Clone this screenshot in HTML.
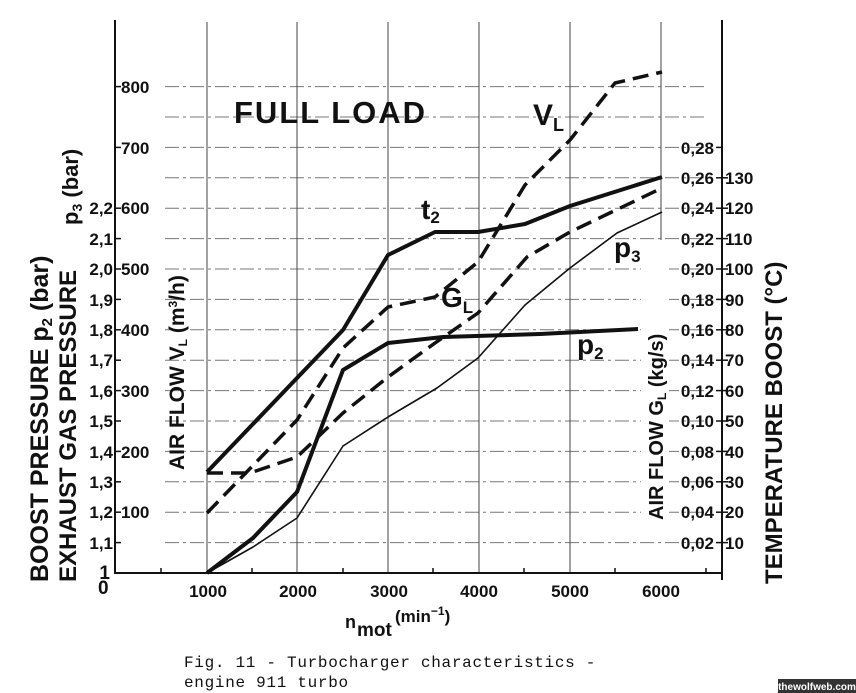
<!DOCTYPE html>
<html><head><meta charset="utf-8"><style>
html,body{margin:0;padding:0;background:#fff;}
svg{display:block;}
text{font-family:"Liberation Sans",sans-serif;font-weight:bold;fill:#111;}
.mono{font-family:"Liberation Mono",monospace;font-weight:normal;}
</style></head><body>
<svg width="856" height="693" viewBox="0 0 856 693" xmlns="http://www.w3.org/2000/svg">
<rect width="856" height="693" fill="#fff"/>
<!-- horizontal grid -->
<g stroke="#777" stroke-width="1" stroke-dasharray="14 4 3 4">
<line x1="165" y1="542.6" x2="705" y2="542.6"/><line x1="165" y1="512.2" x2="705" y2="512.2"/>
<line x1="165" y1="481.8" x2="705" y2="481.8"/><line x1="165" y1="451.4" x2="705" y2="451.4"/>
<line x1="165" y1="421" x2="705" y2="421"/><line x1="165" y1="390.6" x2="705" y2="390.6"/>
<line x1="165" y1="360.2" x2="705" y2="360.2"/><line x1="165" y1="329.8" x2="705" y2="329.8"/>
<line x1="165" y1="299.4" x2="705" y2="299.4"/><line x1="165" y1="269" x2="705" y2="269"/>
<line x1="165" y1="238.6" x2="705" y2="238.6"/><line x1="165" y1="208.2" x2="705" y2="208.2"/>
<line x1="165" y1="177.8" x2="705" y2="177.8"/><line x1="165" y1="147.4" x2="705" y2="147.4"/>
<line x1="165" y1="117" x2="705" y2="117"/><line x1="165" y1="86.6" x2="705" y2="86.6"/>
</g>
<!-- vertical grid -->
<g stroke="#444" stroke-width="1">
<line x1="207" y1="22" x2="207" y2="573"/><line x1="297" y1="22" x2="297" y2="573"/>
<line x1="388" y1="22" x2="388" y2="573"/><line x1="479" y1="22" x2="479" y2="573"/>
<line x1="570" y1="22" x2="570" y2="573"/><line x1="661" y1="22" x2="661" y2="240"/>
</g>
<rect x="641" y="245" width="28" height="278" fill="#fff"/>
<!-- axes -->
<g stroke="#111" stroke-width="2">
<line x1="115" y1="20" x2="115" y2="574"/>
<line x1="114" y1="573" x2="723" y2="573"/>
<line x1="722" y1="20" x2="722" y2="580"/>
</g>
<g stroke="#111" stroke-width="1.5">
<line x1="115" y1="542.6" x2="121" y2="542.6"/><line x1="115" y1="512.2" x2="121" y2="512.2"/>
<line x1="115" y1="481.8" x2="121" y2="481.8"/><line x1="115" y1="451.4" x2="121" y2="451.4"/>
<line x1="115" y1="421" x2="121" y2="421"/><line x1="115" y1="390.6" x2="121" y2="390.6"/>
<line x1="115" y1="360.2" x2="121" y2="360.2"/><line x1="115" y1="329.8" x2="121" y2="329.8"/>
<line x1="115" y1="299.4" x2="121" y2="299.4"/><line x1="115" y1="269" x2="121" y2="269"/>
<line x1="115" y1="238.6" x2="121" y2="238.6"/><line x1="115" y1="208.2" x2="121" y2="208.2"/>
<line x1="115" y1="147.4" x2="121" y2="147.4"/><line x1="115" y1="86.6" x2="121" y2="86.6"/>
<line x1="161" y1="573" x2="161" y2="568"/><line x1="252" y1="573" x2="252" y2="568"/>
<line x1="343" y1="573" x2="343" y2="568"/><line x1="433" y1="573" x2="433" y2="568"/>
<line x1="524" y1="573" x2="524" y2="568"/><line x1="615" y1="573" x2="615" y2="568"/>
<line x1="706" y1="573" x2="706" y2="568"/>
<line x1="716" y1="542.6" x2="728" y2="542.6"/><line x1="716" y1="512.2" x2="728" y2="512.2"/>
<line x1="716" y1="481.8" x2="728" y2="481.8"/><line x1="716" y1="451.4" x2="728" y2="451.4"/>
<line x1="716" y1="421" x2="728" y2="421"/><line x1="716" y1="390.6" x2="728" y2="390.6"/>
<line x1="716" y1="360.2" x2="728" y2="360.2"/><line x1="716" y1="329.8" x2="728" y2="329.8"/>
<line x1="716" y1="299.4" x2="728" y2="299.4"/><line x1="716" y1="269" x2="728" y2="269"/>
<line x1="716" y1="238.6" x2="728" y2="238.6"/><line x1="716" y1="208.2" x2="728" y2="208.2"/>
<line x1="716" y1="177.8" x2="728" y2="177.8"/><line x1="716" y1="147.4" x2="722" y2="147.4"/>
</g>
<!-- curves -->
<g fill="none" stroke="#111" stroke-linejoin="round" stroke-linecap="butt">
<polyline stroke-width="4" points="207,472 343,330 388,255 435,232 478,232 525,224 570,206 662,177"/>
<polyline stroke-width="3.5" stroke-dasharray="16 8" points="207,513 297,420 343,348 388,307 435,297 478,262 525,185 570,140 615,83 662,72"/>
<polyline stroke-width="3.5" stroke-dasharray="16 8" points="207,473 250,473 297,457 343,413 388,377 435,343 478,313 527,257 570,232 662,188"/>
<polyline stroke-width="4" points="207,573 253,538 297,492 343,370 388,343 443,337 540,334 638,329"/>
<polyline stroke-width="1.6" points="207,573 253,547 297,518 343,446 388,417 437,388 478,358 525,305 570,268 617,233 662,212"/>
</g>
<!-- left tick labels -->
<g font-size="17" text-anchor="end">
<text x="110" y="579" font-size="19">1</text>
<text x="113" y="549">1,1</text><text x="113" y="518">1,2</text><text x="113" y="488">1,3</text>
<text x="113" y="458">1,4</text><text x="113" y="427">1,5</text><text x="113" y="397">1,6</text>
<text x="113" y="366">1,7</text><text x="113" y="336">1,8</text><text x="113" y="306">1,9</text>
<text x="113" y="275">2,0</text><text x="113" y="245">2,1</text><text x="113" y="214">2,2</text>
</g>
<text x="98" y="594" font-size="19">0</text>
<g font-size="17">
<text x="121" y="518">100</text><text x="121" y="458">200</text><text x="121" y="397">300</text>
<text x="121" y="336">400</text><text x="121" y="275">500</text><text x="121" y="214">600</text>
<text x="121" y="154">700</text><text x="121" y="93">800</text>
</g>
<!-- right tick labels -->
<g font-size="17" text-anchor="end">
<text x="714" y="549">0,02</text><text x="714" y="518">0,04</text><text x="714" y="488">0,06</text>
<text x="714" y="458">0,08</text><text x="714" y="427">0,10</text><text x="714" y="397">0,12</text>
<text x="714" y="366">0,14</text><text x="714" y="336">0,16</text><text x="714" y="306">0,18</text>
<text x="714" y="275">0,20</text><text x="714" y="245">0,22</text><text x="714" y="214">0,24</text>
<text x="714" y="184">0,26</text><text x="714" y="154">0,28</text>
</g>
<g font-size="17">
<text x="725" y="549">10</text><text x="725" y="518">20</text><text x="725" y="488">30</text>
<text x="725" y="458">40</text><text x="725" y="427">50</text><text x="725" y="397">60</text>
<text x="725" y="366">70</text><text x="725" y="336">80</text><text x="725" y="306">90</text>
<text x="725" y="275">100</text><text x="725" y="245">110</text><text x="725" y="214">120</text>
<text x="725" y="184">130</text>
</g>
<!-- x tick labels -->
<g font-size="17" text-anchor="middle">
<text x="208" y="597">1000</text><text x="298" y="597">2000</text><text x="389" y="597">3000</text>
<text x="479" y="597">4000</text><text x="570" y="597">5000</text><text x="661" y="597">6000</text>
</g>
<text x="345" y="628" font-size="18" font-weight="normal">n</text>
<text x="357" y="636" font-size="19">mot</text>
<text x="395" y="622" font-size="17">(min<tspan font-size="12" dy="-7">−1</tspan><tspan dy="7">)</tspan></text>
<!-- rotated titles -->
<text transform="translate(48,582) rotate(-90)" font-size="25">BOOST PRESSURE  p<tspan font-size="15" dy="4">2</tspan><tspan dy="-4"> (bar)</tspan></text>
<text transform="translate(76,582) rotate(-90)" font-size="24">EXHAUST GAS PRESSURE</text>
<text transform="translate(78,225) rotate(-90)" font-size="22">p<tspan font-size="14" dy="4">3</tspan><tspan dy="-4"> (bar)</tspan></text>
<text transform="translate(184,470) rotate(-90)" font-size="21">AIR FLOW V<tspan font-size="12" dy="3">L</tspan><tspan dy="-3"> (m</tspan><tspan font-size="12" dy="-7">3</tspan><tspan dy="7">/h)</tspan></text>
<text transform="translate(663,520) rotate(-90)" font-size="20">AIR FLOW G<tspan font-size="12" dy="3">L</tspan><tspan dy="-3"> (kg/s)</tspan></text>
<text transform="translate(782,584) rotate(-90)" font-size="24">TEMPERATURE BOOST (°C)</text>
<!-- in-plot labels -->
<text x="234" y="123" font-size="31" letter-spacing="2">FULL LOAD</text>
<text x="533" y="125" font-size="30">V<tspan font-size="18" dy="6">L</tspan></text>
<text x="421" y="219" font-size="28">t<tspan font-size="17" dy="4">2</tspan></text>
<text x="441" y="307" font-size="28">G<tspan font-size="17" dy="6">L</tspan></text>
<text x="614" y="257" font-size="28">p<tspan font-size="17" dy="5">3</tspan></text>
<text x="577" y="354" font-size="28">p<tspan font-size="17" dy="5">2</tspan></text>
<!-- caption -->
<text class="mono" x="184" y="667" font-size="16" letter-spacing="0.7">Fig. 11 - Turbocharger characteristics -</text>
<text class="mono" x="184" y="687" font-size="16" letter-spacing="0.7">engine 911 turbo</text>
<rect x="778" y="679" width="78" height="14" fill="#333"/>
<text x="817" y="690" font-size="10" text-anchor="middle" style="fill:#fff">thewolfweb.com</text>
</svg>
</body></html>
